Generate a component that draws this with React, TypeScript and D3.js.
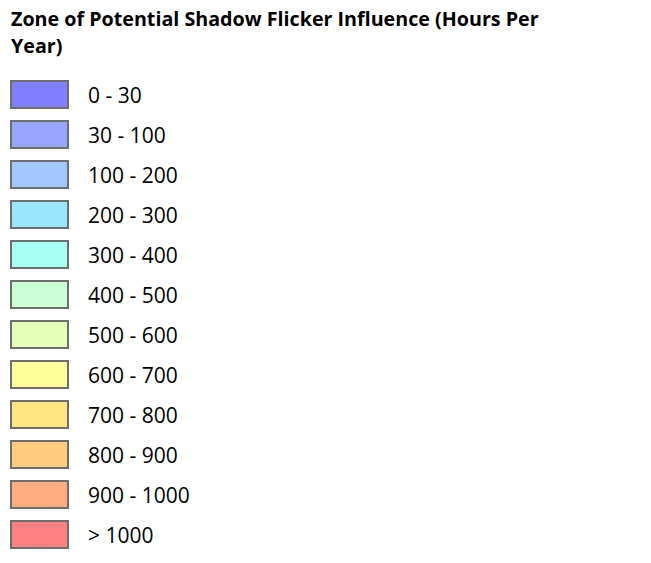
import React from "react";
import * as d3 from "d3";

const titleLines = ["Zone of Potential Shadow Flicker Influence (Hours Per", "Year)"];
const categories = ["0 - 30", "30 - 100", "100 - 200", "200 - 300", "300 - 400", "400 - 500", "500 - 600", "600 - 700", "700 - 800", "800 - 900", "900 - 1000", "> 1000"];
const colors = ["#8080ff", "#99a6ff", "#a3c8ff", "#99e6ff", "#a6fff5", "#ccffd6", "#e6ffb8", "#ffff99", "#ffe680", "#ffcc80", "#ffad80", "#ff8080"];

export default function App() {
  const W = 651, H = 563;
  const y = d3.scaleBand<string>().domain(categories).range([74.5, 554.5]).paddingInner(0.325).paddingOuter(0.1625);
  return (
    <svg width={W} height={H} style={{ position: "absolute", left: 0, top: 0 }}>
      <rect width={W} height={H} fill="#fff" />
      {titleLines.map((t, i) => (
        <text key={i} x={11} y={26 + i * 27} fontFamily="'Open Sans', sans-serif" fontWeight="bold" fontSize={19.7} fill="#000">{t}</text>
      ))}
      {categories.map((c, i) => (
        <g key={c}>
          <rect x={11} y={y(c)!} width={57} height={y.bandwidth()} fill={colors[i]} stroke="#6e6e6e" strokeWidth={2} />
          <text x={88} y={y(c)! + y.bandwidth() / 2 + 8.5} fontFamily="'Open Sans', sans-serif" fontSize={21} fill="#000">{c}</text>
        </g>
      ))}
    </svg>
  );
}
